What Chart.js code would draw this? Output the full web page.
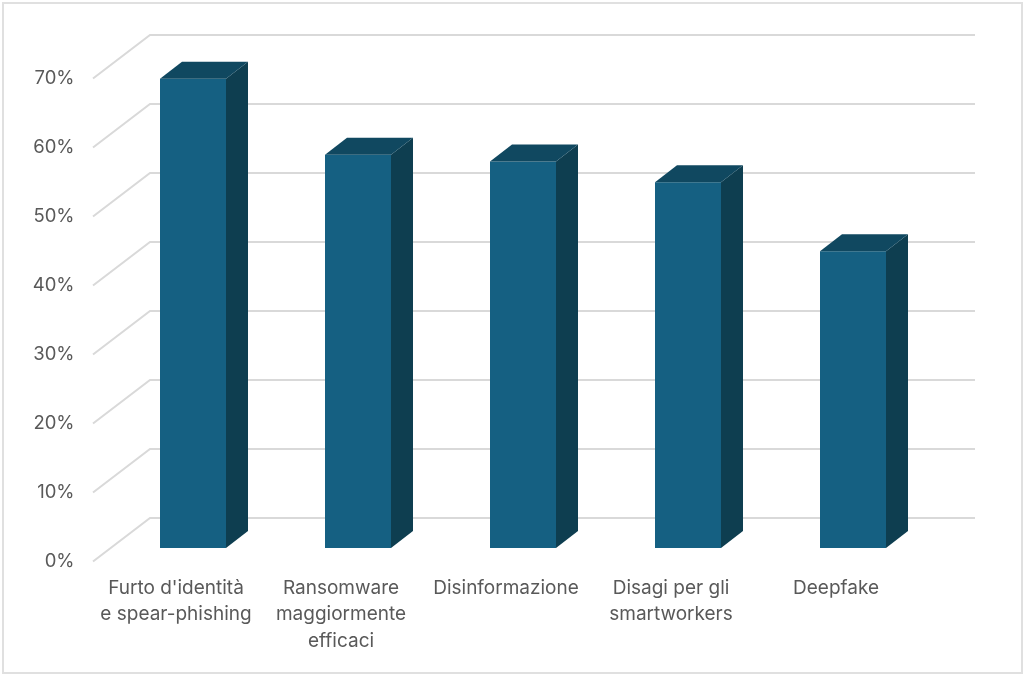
<!DOCTYPE html>
<html><head><meta charset="utf-8">
<script src="https://cdn.jsdelivr.net/npm/chart.js@4"></script>
<style>
html,body{margin:0;padding:0;background:#fff;}
#wrap{position:relative;width:1024px;height:676px;overflow:hidden;}
#frame{position:absolute;left:2px;top:2px;width:1017px;height:668px;border:2px solid #E0E0E0;pointer-events:none;}
canvas{position:absolute;left:0;top:0;}
</style></head><body>
<div id="wrap"><canvas id="c" width="1024" height="676"></canvas><div id="frame"></div></div>
<script>
const categories = [["Furto d'identità","e spear-phishing"],["Ransomware","maggiormente","efficaci"],["Disinformazione"],["Disagi per gli","smartworkers"],["Deepfake"]];
const values = [68,57,56,53,43];
const yTicks = [0,10,20,30,40,50,60,70];

const frontColor='#156082', sideColor='#0E3E50', topColor='#104860', gridColor='#D9D9D9', textColor='#595959';
const depth={dx:22,dy:-17};
const wall={left:150,right:975,dy:-30,frontX:93};
const labelShift={y:13.5,x:-17};

const threeD={
  id:'threeD',
  afterLayout(chart){
    chart.scales.y.getLabelItems().forEach(i=>{i.options.translation=[i.options.translation[0],i.options.translation[1]+labelShift.y];});
    chart.scales.x.getLabelItems().forEach(i=>{i.options.translation=[i.options.translation[0]+labelShift.x,i.options.translation[1]];});
  },
  beforeDatasetsDraw(chart){
    const {ctx,scales:{y}}=chart;
    ctx.save();
    ctx.strokeStyle=gridColor;ctx.lineWidth=2;
    y.ticks.forEach(t=>{
      const py=y.getPixelForValue(t.value)+wall.dy;
      ctx.beginPath();
      ctx.moveTo(wall.frontX,py+43.5);
      ctx.lineTo(wall.left,py);
      ctx.lineTo(wall.right,py);
      ctx.stroke();
    });
    ctx.restore();
  },
  afterDatasetsDraw(chart){
    const {ctx}=chart;
    ctx.save();
    chart.getDatasetMeta(0).data.forEach(b=>{
      const hw=b.width/2,l=b.x-hw,r=b.x+hw,t=b.y,bo=b.base;
      ctx.fillStyle=sideColor;
      ctx.beginPath();ctx.moveTo(r,t);ctx.lineTo(r+depth.dx,t+depth.dy);ctx.lineTo(r+depth.dx,bo+depth.dy);ctx.lineTo(r,bo);ctx.closePath();ctx.fill();
      ctx.fillStyle=topColor;
      ctx.beginPath();ctx.moveTo(l,t);ctx.lineTo(l+depth.dx,t+depth.dy);ctx.lineTo(r+depth.dx,t+depth.dy);ctx.lineTo(r,t);ctx.closePath();ctx.fill();
    });
    ctx.restore();
  }
};

new Chart(document.getElementById('c'),{
  type:'bar',
  data:{labels:categories,datasets:[{data:values,backgroundColor:frontColor,borderWidth:0,categoryPercentage:1,barPercentage:0.4}]},
  plugins:[threeD],
  options:{
    responsive:false,animation:false,
    layout:{autoPadding:false,padding:{left:0,top:65,right:88.5,bottom:0}},
    plugins:{legend:{display:false},tooltip:{enabled:false}},
    scales:{
      x:{type:'category',offset:true,grid:{display:false,drawTicks:false},border:{display:false},
        afterFit(s){s.height=128;},
        ticks:{color:textColor,padding:27,maxRotation:0,minRotation:0,autoSkip:false,font:{family:'Inter',size:19,lineHeight:1.39}}},
      y:{min:0,max:70,grid:{display:false,drawTicks:false},border:{display:false},
        afterFit(s){s.width=110.5;},
        afterBuildTicks(s){s.ticks=yTicks.map(v=>({value:v}));},
        ticks:{color:textColor,padding:36,font:{family:'Inter',size:18.5},callback:v=>v+'%'}}
    }
  }
});
</script></body></html>
